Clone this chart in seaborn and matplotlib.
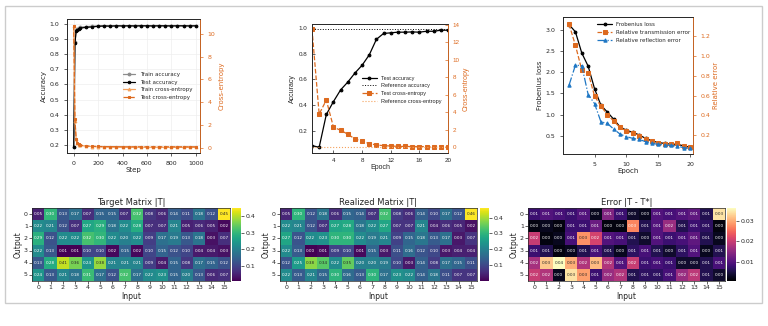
import numpy as np
import matplotlib
matplotlib.use('Agg')
import matplotlib.pyplot as plt
from matplotlib.patches import Rectangle
import seaborn as sns

# ---- top left: step curves ----
steps = [0, 10, 20, 30, 40, 50, 100, 150, 200, 250, 300, 350, 400, 450, 500,
         550, 600, 650, 700, 750, 800, 850, 900, 950, 1000]
train_acc = [0.19, 0.88, 0.955, 0.965, 0.97, 0.975, 0.98, 0.982, 0.985, 0.986, 0.985, 0.986, 0.987,
             0.986, 0.987, 0.987, 0.986, 0.987, 0.987, 0.986, 0.987, 0.987, 0.986, 0.987, 0.987]
test_acc = [0.19, 0.87, 0.95, 0.96, 0.965, 0.97, 0.975, 0.978, 0.982, 0.984, 0.983, 0.985, 0.984,
            0.985, 0.984, 0.985, 0.985, 0.984, 0.985, 0.985, 0.984, 0.985, 0.985, 0.984, 0.985]
train_ce = [10.7, 2.4, 0.75, 0.42, 0.3, 0.23, 0.16, 0.12, 0.1, 0.09, 0.08, 0.08, 0.07,
            0.07, 0.07, 0.07, 0.065, 0.065, 0.06, 0.06, 0.06, 0.06, 0.06, 0.06, 0.06]
test_ce = [10.7, 2.5, 0.8, 0.45, 0.32, 0.25, 0.18, 0.15, 0.13, 0.12, 0.11, 0.11, 0.1,
           0.1, 0.1, 0.1, 0.1, 0.1, 0.1, 0.1, 0.1, 0.1, 0.1, 0.1, 0.1]

# ---- top middle: epoch curves ----
epochs = list(range(1, 21))
mid_test_acc = [0.09, 0.077, 0.33, 0.43, 0.52, 0.58, 0.65, 0.71, 0.79, 0.91,
                0.955, 0.96, 0.965, 0.965, 0.967, 0.965, 0.972, 0.972, 0.98, 0.98]
mid_test_ce = [13.5, 3.8, 5.4, 2.3, 1.95, 1.5, 0.95, 0.72, 0.42, 0.27,
               0.19, 0.15, 0.11, 0.1, 0.09, 0.09, 0.08, 0.08, 0.08, 0.08]
ref_acc = 0.987
ref_ce = 0.05

# ---- top right: loss curves ----
frob_loss = [3.12, 2.95, 2.45, 2.14, 1.61, 1.22, 1.06, 0.89, 0.71, 0.63,
             0.58, 0.52, 0.44, 0.38, 0.34, 0.32, 0.30, 0.30, 0.26, 0.23]
trans_err = [1.317, 1.106, 0.856, 0.83, 0.595, 0.494, 0.41, 0.344, 0.28, 0.243,
             0.22, 0.197, 0.16, 0.143, 0.127, 0.113, 0.11, 0.12, 0.093, 0.086]
refl_err = [0.705, 0.906, 0.90, 0.61, 0.52, 0.337, 0.32, 0.264, 0.213, 0.187,
            0.17, 0.16, 0.137, 0.12, 0.11, 0.103, 0.1, 0.093, 0.076, 0.07]

# ---- bottom: matrices ----
target = [
    [0.05, 0.30, 0.13, 0.17, 0.07, 0.15, 0.15, 0.07, 0.32, 0.08, 0.06, 0.14, 0.11, 0.18, 0.12, 0.45],
    [0.22, 0.21, 0.12, 0.07, 0.27, 0.29, 0.18, 0.22, 0.28, 0.07, 0.07, 0.21, 0.05, 0.06, 0.05, 0.02],
    [0.29, 0.12, 0.22, 0.22, 0.32, 0.30, 0.22, 0.20, 0.22, 0.09, 0.17, 0.19, 0.13, 0.18, 0.03, 0.07],
    [0.22, 0.13, 0.01, 0.01, 0.10, 0.10, 0.02, 0.15, 0.02, 0.10, 0.15, 0.12, 0.10, 0.04, 0.04, 0.03],
    [0.13, 0.28, 0.41, 0.36, 0.24, 0.38, 0.21, 0.21, 0.21, 0.09, 0.04, 0.15, 0.08, 0.17, 0.15, 0.12],
    [0.24, 0.13, 0.21, 0.18, 0.31, 0.17, 0.12, 0.32, 0.17, 0.22, 0.23, 0.15, 0.20, 0.13, 0.06, 0.07],
]
realized = [
    [0.05, 0.30, 0.12, 0.18, 0.06, 0.15, 0.14, 0.07, 0.32, 0.08, 0.06, 0.14, 0.10, 0.17, 0.12, 0.46],
    [0.22, 0.21, 0.12, 0.07, 0.27, 0.28, 0.18, 0.22, 0.27, 0.07, 0.07, 0.21, 0.04, 0.06, 0.05, 0.02],
    [0.27, 0.12, 0.22, 0.23, 0.30, 0.30, 0.22, 0.19, 0.21, 0.09, 0.15, 0.18, 0.13, 0.17, 0.03, 0.07],
    [0.22, 0.13, 0.00, 0.01, 0.09, 0.10, 0.01, 0.15, 0.03, 0.11, 0.16, 0.12, 0.10, 0.03, 0.04, 0.04],
    [0.12, 0.25, 0.38, 0.34, 0.22, 0.35, 0.20, 0.20, 0.19, 0.10, 0.03, 0.14, 0.08, 0.17, 0.15, 0.11],
    [0.22, 0.13, 0.21, 0.15, 0.30, 0.16, 0.13, 0.30, 0.17, 0.23, 0.22, 0.14, 0.18, 0.11, 0.07, 0.07],
]
error = [
    [0.008, 0.010, 0.009, 0.008, 0.010, 0.003, 0.014, 0.008, 0.004, 0.003, 0.010, 0.009, 0.010, 0.011, 0.006, 0.034],
    [0.002, 0.003, 0.002, 0.008, 0.008, 0.012, 0.002, 0.002, 0.027, 0.006, 0.010, 0.016, 0.006, 0.008, 0.007, 0.002],
    [0.020, 0.002, 0.003, 0.009, 0.028, 0.021, 0.010, 0.009, 0.006, 0.004, 0.010, 0.008, 0.009, 0.011, 0.006, 0.003],
    [0.008, 0.006, 0.002, 0.003, 0.006, 0.009, 0.006, 0.003, 0.007, 0.009, 0.006, 0.004, 0.007, 0.010, 0.003, 0.006],
    [0.017, 0.032, 0.036, 0.030, 0.018, 0.031, 0.018, 0.010, 0.020, 0.008, 0.009, 0.008, 0.004, 0.004, 0.006, 0.009],
    [0.020, 0.018, 0.003, 0.034, 0.029, 0.008, 0.016, 0.018, 0.006, 0.007, 0.007, 0.009, 0.016, 0.019, 0.006, 0.004],
]

orange = '#dd6a1f'
light_orange = '#f5a25d'

sns.set_style('ticks')
plt.rcParams['font.family'] = ['DejaVu Sans']
plt.rcParams['axes.linewidth'] = 0.6

fig = plt.figure(figsize=(7.68, 3.26), dpi=100)
fig.add_artist(Rectangle((5 / 768, 1 - 303 / 326), 757 / 768, 297 / 326,
                         transform=fig.transFigure, fill=False, edgecolor='#cccccc', lw=1))


def style_twin(ax, ax2, size=4.5):
    ax.tick_params(labelsize=size, length=2, width=0.5)
    ax2.tick_params(labelsize=size, length=2, width=0.5, colors=orange)
    ax2.spines['right'].set_color(orange)


def line(ax, x, y, color, label, ls='-', marker='o', ms=2):
    sns.lineplot(x=x, y=y, ax=ax, color=color, label=label, linestyle=ls, marker=marker,
                 markersize=ms, markeredgecolor=color, lw=0.9, legend=False)


# top left
ax = fig.add_axes([67 / 768, 1 - 153 / 326, 133 / 768, 134 / 326])
ax2 = ax.twinx()
line(ax, steps, train_acc, '#8c8c8c', 'Train accuracy')
line(ax, steps, test_acc, 'black', 'Test accuracy', ms=1.8)
line(ax2, steps, train_ce, light_orange, 'Train cross-entropy', marker='^')
line(ax2, steps, test_ce, orange, 'Test cross-entropy', ls='--', marker='s', ms=1.8)
ax.set_xlim(-55, 1035)
ax.set_ylim(0.15, 1.03)
ax.set_yticks([0.2, 0.3, 0.4, 0.5, 0.6, 0.7, 0.8, 0.9, 1.0])
ax.set_xticks([0, 200, 400, 600, 800, 1000])
ax2.set_ylim(-0.44, 11.28)
ax2.set_yticks([0, 2, 4, 6, 8, 10])
ax.grid(True, color='#eeeeee', lw=0.5)
ax.set_xlabel('Step', fontsize=5, labelpad=1)
ax.set_ylabel('Accuracy', fontsize=5, labelpad=2)
ax2.set_ylabel('Cross-entropy', fontsize=5, color=orange, labelpad=2)
style_twin(ax, ax2)
h1, l1 = ax.get_legend_handles_labels()
h2, l2 = ax2.get_legend_handles_labels()
ax2.legend(h1 + h2, l1 + l2, loc='center right', fontsize=4, frameon=False,
           handlelength=2.2, labelspacing=0.5, bbox_to_anchor=(0.98, 0.5))

# top middle
mid_font = ['Liberation Sans', 'DejaVu Sans']
ax = fig.add_axes([312 / 768, 1 - 153 / 326, 136 / 768, 129 / 326])
ax2 = ax.twinx()
line(ax, epochs, mid_test_acc, 'black', 'Test accuracy', ms=2)
ax.axhline(ref_acc, color='black', ls=':', lw=0.7, label='Reference accuracy')
line(ax2, epochs, mid_test_ce, orange, 'Test cross-entropy', ls='--', marker='s', ms=2.4)
ax2.axhline(ref_ce, color=light_orange, ls=':', lw=0.8, label='Reference cross-entropy')
ax.set_xlim(1, 20)
ax.set_xticks([4, 8, 12, 16, 20])
ax.set_ylim(0.033, 1.028)
ax.set_yticks([0.2, 0.4, 0.6, 0.8, 1.0])
ax2.set_ylim(-0.65, 14.1)
ax2.set_yticks([0, 2, 4, 6, 8, 10, 12, 14])
ax.set_xlabel('Epoch', fontsize=5, family=mid_font, labelpad=1)
ax.set_ylabel('Accuracy', fontsize=5, family=mid_font, labelpad=2)
ax2.set_ylabel('Cross-entropy', fontsize=5, color=orange, family=mid_font, labelpad=2)
style_twin(ax, ax2)
ax.tick_params(direction='in')
ax2.tick_params(direction='in')
for t in ax.get_xticklabels() + ax.get_yticklabels() + ax2.get_yticklabels():
    t.set_family(mid_font)
h1, l1 = ax.get_legend_handles_labels()
h2, l2 = ax2.get_legend_handles_labels()
leg = ax2.legend([h1[0], h1[1], h2[0], h2[1]], [l1[0], l1[1], l2[0], l2[1]],
                 loc='center right', fontsize=4, frameon=False, handlelength=2.6,
                 labelspacing=0.5, bbox_to_anchor=(0.99, 0.49))
for t in leg.get_texts():
    t.set_family(mid_font)

# top right
ax = fig.add_axes([563 / 768, 1 - 154 / 326, 130 / 768, 137 / 326])
ax2 = ax.twinx()
line(ax, epochs, frob_loss, 'black', 'Frobenius loss', ms=2)
line(ax2, epochs, trans_err, orange, 'Relative transmission error', ls='--', marker='s', ms=2.2)
line(ax2, epochs, refl_err, '#1f77c4', 'Relative reflection error', ls='-.', marker='^', ms=2.4)
ax.set_xlim(0.05, 20.45)
ax.set_xticks([5, 10, 15, 20])
ax.set_ylim(0.07, 3.3)
ax.set_yticks([0.5, 1.0, 1.5, 2.0, 2.5, 3.0])
ax2.set_ylim(0.013, 1.39)
ax2.set_yticks([0.2, 0.4, 0.6, 0.8, 1.0, 1.2])
ax.set_xlabel('Epoch', fontsize=5, labelpad=1)
ax.set_ylabel('Frobenius loss', fontsize=5, labelpad=2)
ax2.set_ylabel('Relative error', fontsize=5, color=orange, labelpad=2)
style_twin(ax, ax2)
h1, l1 = ax.get_legend_handles_labels()
h2, l2 = ax2.get_legend_handles_labels()
ax2.legend(h1 + h2, l1 + l2, loc='upper right', fontsize=4, frameon=False,
           handlelength=2.6, labelspacing=0.5, bbox_to_anchor=(1.02, 1.0))

# bottom heatmaps
heat_specs = [
    (target, 'viridis', 'Target Matrix |T|', [32, 232, 198], 0.01, 0.45, [0.1, 0.2, 0.3, 0.4]),
    (realized, 'viridis', 'Realized Matrix |T|', [280, 480, 197], 0.0, 0.46, [0.1, 0.2, 0.3, 0.4]),
    (error, 'magma', 'Error |T - T*|', [528, 727, 197], 0.001, 0.036, [0.01, 0.02, 0.03]),
]
for data, cmap, title, (x0, cx0, w), vmin, vmax, cticks in heat_specs:
    ax = fig.add_axes([x0 / 768, 1 - 281 / 326, w / 768, 73 / 326])
    cax = fig.add_axes([cx0 / 768, 1 - 281 / 326, 9 / 768, 73 / 326])
    sns.heatmap(np.array(data), ax=ax, cbar_ax=cax, cmap=cmap, vmin=vmin, vmax=vmax,
                annot=True, fmt='.2f', annot_kws={'size': 3.0},
                xticklabels=True, yticklabels=True)
    ax.set_title(title, fontsize=6, pad=2)
    ax.set_xlabel('Input', fontsize=5.5, labelpad=1)
    ax.set_ylabel('Output', fontsize=5.5, labelpad=1)
    ax.tick_params(labelsize=4.5, length=2, width=0.5, pad=1)
    ax.set_yticklabels(ax.get_yticklabels(), rotation=0)
    ax.set_xticklabels(ax.get_xticklabels(), rotation=0)
    for s in ax.spines.values():
        s.set_visible(True)
        s.set_linewidth(0.5)
    cax.set_yticks(cticks)
    cax.tick_params(labelsize=4.5, length=2, width=0.5, pad=1)

fig.savefig('out.png', dpi=100)
